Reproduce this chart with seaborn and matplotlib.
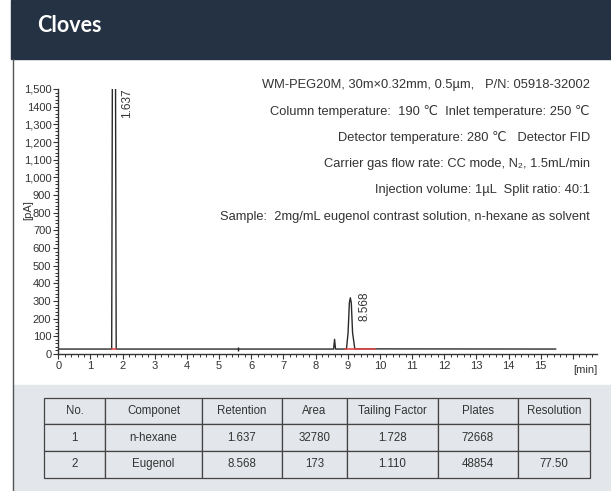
import numpy as np
import pandas as pd
import matplotlib
matplotlib.use("Agg")
import matplotlib.pyplot as plt
import seaborn as sns
from matplotlib.ticker import MultipleLocator, FixedLocator
from matplotlib.patches import Rectangle
from matplotlib.lines import Line2D

# -------------------------
# Data
# -------------------------
trace_time = [0.0, 1.66, 1.683, 1.777, 1.80, 5.59, 8.56, 8.59, 8.62,
              8.96, 9.01, 9.05, 9.08, 9.11, 9.15, 9.22, 15.47]
trace_signal = [28, 28, 1700, 1700, 28, 28, 28, 83, 28,
                28, 120, 290, 318, 290, 120, 29, 28]

integ_start = [1.66, 8.93]
integ_end = [1.80, 9.84]
integ_level = [28, 28]

peak_labels = ["1.637", "8.568"]
peak_label_x = [2.13, 9.52]
peak_label_top = [1505, 352]

y_ticks = [0, 100, 200, 300, 400, 500, 600, 700, 800, 900, 1000,
           1100, 1200, 1300, 1400, 1500]
y_tick_labels = ["0", "100", "200", "300", "400", "500", "600", "700", "800",
                 "900", "1,000", "1,100", "1,200", "1,300", "1400", "1,500"]
x_ticks = list(range(0, 16))

info_lines = [
    "WM-PEG20M, 30m×0.32mm, 0.5µm,   P/N: 05918-32002",
    "Column temperature:  190 ℃  Inlet temperature: 250 ℃",
    "Detector temperature: 280 ℃   Detector FID",
    "Carrier gas flow rate: CC mode, N₂, 1.5mL/min",
    "Injection volume: 1µL  Split ratio: 40:1",
    "Sample:  2mg/mL eugenol contrast solution, n-hexane as solvent",
]

table_header = ["No.", "Componet", "Retention", "Area", "Tailing Factor", "Plates", "Resolution"]
comp_no = ["1", "2"]
comp_name = ["n-hexane", "Eugenol"]
retention = ["1.637", "8.568"]
area = ["32780", "173"]
tailing = ["1.728", "1.110"]
plates = ["72668", "48854"]
resolution = ["", "77.50"]

# -------------------------
# Figure setup
# -------------------------
sns.set_theme(style="white")
plt.rcParams["font.family"] = ["Liberation Sans", "DejaVu Sans"]

W, H = 611, 491
fig = plt.figure(figsize=(W / 100, H / 100), dpi=100)
fig.patch.set_facecolor("white")

dark = "#253244"
panel = "#e3e6ea"
txt = "#333333"

# header band, left border, table panel
fig.add_artist(Rectangle((11 / W, 1 - 59 / H), 1, 59 / H, transform=fig.transFigure,
                         color=dark, zorder=0))
fig.add_artist(Rectangle((12.5 / W, 0), 1, (491 - 385) / H, transform=fig.transFigure,
                         color=panel, zorder=0))
fig.add_artist(Line2D([12.5 / W, 12.5 / W], [0, 1 - 59 / H], transform=fig.transFigure,
                      color="#555555", lw=1))
fig.text(37 / W, 1 - 25 / H, "Cloves", color="white", fontsize=15.5, fontweight="bold",
         family=["Lato", "DejaVu Sans"], va="center", ha="left")

# -------------------------
# Chromatogram
# -------------------------
ax = fig.add_axes([58.3 / W, (H - 354) / H, (597 - 58.3) / W, (354 - 89) / H])
ax.set_facecolor("white")

sns.lineplot(x=trace_time, y=trace_signal, ax=ax, color="#2a2a2a", lw=1,
             estimator=None, sort=False)
for s, e, lv in zip(integ_start, integ_end, integ_level):
    ax.plot([s, e], [lv, lv], color="#e04848", lw=1.4, alpha=0.85, zorder=3)
ax.plot([5.59], [28], marker="|", ms=3, color="#222222")

for lab, lx, ly in zip(peak_labels, peak_label_x, peak_label_top):
    ax.text(lx, ly, lab, rotation=90, ha="center", va="top", fontsize=8.5, color=txt)

ax.set_xlim(0, 16.75)
ax.set_ylim(0, 1500)
ax.xaxis.set_major_locator(FixedLocator(x_ticks + [16]))
ax.set_xticklabels([str(t) for t in x_ticks] + [""])
ax.xaxis.set_minor_locator(MultipleLocator(0.2))
ax.yaxis.set_major_locator(FixedLocator(y_ticks))
ax.set_yticklabels(y_tick_labels)
ax.yaxis.set_minor_locator(MultipleLocator(20))

for side in ["top", "right"]:
    ax.spines[side].set_visible(False)
for side in ["left", "bottom"]:
    ax.spines[side].set_color("#333333")
    ax.spines[side].set_linewidth(1)

ax.tick_params(axis="both", which="major", direction="out", length=3.5, width=0.8,
               color="#333333", labelsize=8, labelcolor=txt, pad=1.5)
ax.tick_params(axis="both", which="minor", direction="out", length=2, width=0.7,
               color="#333333")
ax.tick_params(axis="x", which="both", bottom=True)
ax.tick_params(axis="y", which="both", left=True)

ax.set_ylabel("[pA]", fontsize=8, color=txt)
ax.yaxis.set_label_coords(-0.047, 0.545)
ax.set_xlabel("[min]", fontsize=8, color=txt, loc="right", labelpad=-4)

info_y = [85, 111, 137.5, 164, 190, 216.5]
for line, yy in zip(info_lines, info_y):
    fig.text(590 / W, 1 - yy / H, line, ha="right", va="center", fontsize=9.3, color=txt)

# -------------------------
# Results table
# -------------------------
rows = list(zip(comp_no, comp_name, retention, area, tailing, plates, resolution))
col_edges = [44.3, 105.3, 202, 282, 347, 438, 517.5, 590]
col_w = np.diff(col_edges) / (col_edges[-1] - col_edges[0])

tax = fig.add_axes([44.3 / W, (H - 477.7) / H, (590 - 44.3) / W, (477.7 - 397.7) / H])
tax.axis("off")
tbl = tax.table(cellText=[list(r) for r in rows], colLabels=table_header,
                cellLoc="center", colWidths=list(col_w), bbox=[0, 0, 1, 1])
tbl.auto_set_font_size(False)
tbl.set_fontsize(8.3)
for (r, c), cell in tbl.get_celld().items():
    cell.set_facecolor(panel)
    cell.set_edgecolor("#444444")
    cell.set_linewidth(0.9)
    cell.get_text().set_color(txt)

fig.savefig("out.png", dpi=100)
